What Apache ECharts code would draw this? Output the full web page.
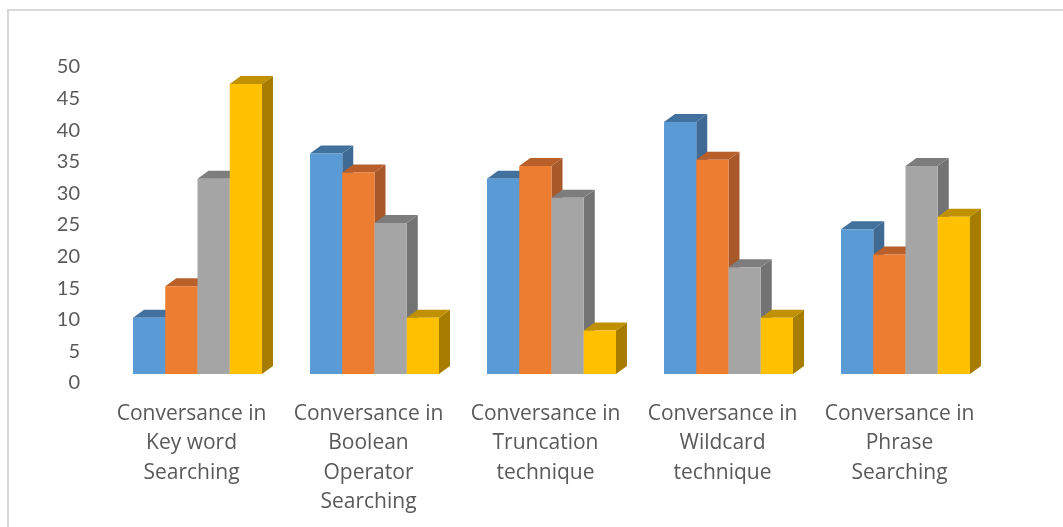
<!DOCTYPE html>
<html>
<head>
<meta charset="utf-8">
<style>html,body{margin:0;padding:0;background:#fff}#c{width:1063px;height:527px}</style>
<script src="https://cdn.jsdelivr.net/npm/echarts@6/dist/echarts.min.js"></script>
</head>
<body>
<div id="c"></div>
<script>
var categories = [
  "Conversance in\nKey word\nSearching",
  "Conversance in\nBoolean\nOperator\nSearching",
  "Conversance in\nTruncation\ntechnique",
  "Conversance in\nWildcard\ntechnique",
  "Conversance in\nPhrase\nSearching"
];
var seriesA = [10, 36, 32, 41, 24];
var seriesB = [15, 33, 34, 35, 20];
var seriesC = [32, 25, 29, 18, 34];
var seriesD = [47, 10, 8, 10, 26];
var palette = [
  { front: "#5b9bd5", top: "#41719c", side: "#3e6a93" },
  { front: "#ed7d31", top: "#b9602a", side: "#a8592a" },
  { front: "#a5a5a5", top: "#7d7d7d", side: "#737373" },
  { front: "#ffc000", top: "#bf9000", side: "#a67d00" }
];
var allSeries = [seriesA, seriesB, seriesC, seriesD];

var DX = 11, DY = 8, FLOOR = 7, SHIFT = 6, BAR_RATIO = 0.1822;

function makeRender(idx) {
  var col = palette[idx];
  return function (params, api) {
    var c = api.value(0), v = api.value(1);
    var top = api.coord([c, v]);
    var base = api.coord([c, 0]);
    var w = api.size([1, 0])[0] * BAR_RATIO;
    var x0 = top[0] + SHIFT + (idx - 2) * w;
    var x1 = x0 + w;
    var yT = top[1], yB = base[1] - FLOOR;
    return {
      type: "group",
      children: [
        { type: "polygon", shape: { points: [[x1, yT], [x1 + DX, yT - DY], [x1 + DX, yB - DY], [x1, yB]] }, style: { fill: col.side } },
        { type: "polygon", shape: { points: [[x0, yT], [x0 + DX, yT - DY], [x1 + DX, yT - DY], [x1, yT]] }, style: { fill: col.top } },
        { type: "rect", shape: { x: x0, y: yT, width: w, height: yB - yT }, style: { fill: col.front } }
      ]
    };
  };
}

var chart = echarts.init(document.getElementById("c"), null, { renderer: "canvas" });
chart.setOption({
  animation: false,
  backgroundColor: "#fff",
  grid: { left: 103, top: 65, width: 885, height: 316, containLabel: false },
  xAxis: {
    type: "category",
    data: categories,
    axisLine: { show: false },
    axisTick: { show: false },
    axisLabel: {
      interval: 0,
      margin: 18,
      color: "#595959",
      fontFamily: "Open Sans",
      fontSize: 21,
      lineHeight: 29.5
    }
  },
  yAxis: {
    type: "value",
    min: 0,
    max: 50,
    interval: 5,
    axisLine: { show: false },
    axisTick: { show: false },
    splitLine: { show: false },
    axisLabel: {
      margin: 23,
      formatter: "{v|{value}}",
      rich: { v: { color: "#595959", fontFamily: "Lato", fontSize: 20, padding: [4, 0, 0, 0] } }
    }
  },
  graphic: [{
    type: "polyline",
    silent: true,
    shape: { points: [[8, 527], [8, 10], [1063, 10]] },
    style: { stroke: "#d9d9d9", lineWidth: 2, fill: null }
  }],
  series: allSeries.map(function (vals, i) {
    return {
      type: "custom",
      renderItem: makeRender(i),
      encode: { x: 0, y: 1 },
      data: vals.map(function (v, j) { return [j, v]; }),
      z: 2 + i
    };
  })
});
</script>
</body>
</html>
